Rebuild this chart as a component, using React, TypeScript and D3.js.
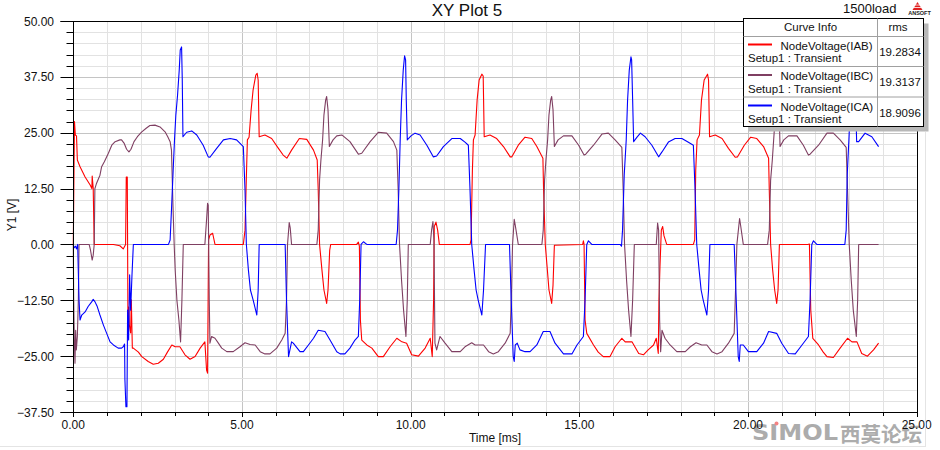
import React from 'react';
import * as d3 from 'd3';

// ---------- data (time in ms, voltage in V) ----------
const xMajorTicks = [0, 5, 10, 15, 20, 25];
const yMajorTicks = [-37.5, -25, -12.5, 0, 12.5, 25, 37.5, 50];
const xDomain = [0, 25];
const yDomain = [-37.5, 50];

const seriesNames = ['NodeVoltage(IAB)', 'NodeVoltage(IBC)', 'NodeVoltage(ICA)'];
const seriesSetup = 'Setup1 : Transient';
const rmsValues = ['19.2834', '19.3137', '18.9096'];

const iabData: [number, number][] = [
  [0,0],[0.015,12.2],[0.035,27.5],[0.06,24.5],[0.095,24.3],[0.12,18.9],[0.2,17.4],[0.35,15.1],[0.5,13.3],[0.55,12.5],[0.56,15.3],[0.59,12.6],[0.62,0],
  [1.19,0],[1.38,-0.3],[1.48,-1.0],[1.55,0],[1.57,15.1],[1.6,15.1],[1.62,-16.9],[1.64,-14],[1.66,-18],[1.7,-19.8],[1.72,-12.4],[1.75,-23.2],[1.78,-23.2],
  [1.93,-24.1],[2.03,-25.1],[2.22,-26.2],[2.37,-26.8],[2.52,-26.6],[2.67,-25.7],[2.79,-24.1],[2.92,-22.5],[3.02,-22.9],[3.16,-22.9],[3.31,-24.7],[3.46,-25.7],
  [3.61,-25.1],[3.76,-23.2],[3.9,-21.8],[3.95,-28.1],[3.98,-28.8],[4.01,1.0],[4.05,2.1],[4.13,2.5],[4.2,0],[5.04,0],[5.09,3.2],[5.12,12.2],[5.16,23.4],
  [5.21,24],[5.27,30],[5.33,34.6],[5.41,37.9],[5.45,38.3],[5.48,36.8],[5.51,24.1],[5.68,24.5],[5.88,23.7],[6.08,21.5],[6.22,20],[6.33,19.3],[6.47,21.1],
  [6.7,23.7],[6.92,23.5],[7.12,21.1],[7.23,18.9],[7.26,12.2],[7.3,0],[7.37,-5.7],[7.43,-10.2],[7.51,-13.2],[7.55,-10.2],[7.6,-1.3],[7.63,0],[8.4,0],
  [8.45,0.5],[8.48,-0.4],[8.51,-16.9],[8.55,-21.4],[8.7,-22.5],[8.85,-23.2],[9.04,-25.1],[9.19,-25.1],[9.39,-22.9],[9.59,-21],[9.74,-21.8],[9.88,-22.1],
  [10.03,-24.7],[10.23,-25],[10.43,-23.2],[10.58,-21],[10.64,-25.1],[10.68,-12.4],[10.7,4],[10.75,5],[10.8,3.2],[10.85,0],[11.76,0],[11.79,1],[11.83,16.6],
  [11.86,23.4],[11.91,24.5],[11.97,32.3],[12.03,36.8],[12.11,38.1],[12.15,37.7],[12.18,24.1],[12.35,24.5],[12.55,23.7],[12.75,21.9],[12.95,19.6],[13,19.6],
  [13.19,22.2],[13.39,24],[13.59,23.7],[13.74,21.9],[13.92,19.3],[13.94,12.2],[13.99,0],[14.04,-4.6],[14.1,-10.2],[14.18,-13.2],[14.22,-9.1],[14.26,-0.2],
  [15.1,0],[15.12,0.8],[15.14,0],[15.17,-16.9],[15.22,-19.9],[15.42,-22.5],[15.56,-24.1],[15.71,-25.1],[15.91,-25.1],[16.06,-22.9],[16.26,-21],[16.36,-21.8],
  [16.56,-21.8],[16.76,-24.4],[16.9,-24.7],[17.04,-23.6],[17.2,-22.5],[17.28,-21],[17.34,-24.4],[17.36,-12.4],[17.39,-5],[17.43,3.2],[17.47,4],[17.51,1.9],
  [17.59,0],[18.38,0],[18.42,1],[18.45,16.6],[18.49,23.4],[18.56,24.5],[18.62,32.3],[18.7,36.8],[18.8,38.1],[18.83,36.8],[18.86,24.1],[19.03,24.5],
  [19.23,23.7],[19.42,21.5],[19.62,19.5],[19.69,19.6],[19.89,22.2],[20.08,24],[20.26,23.7],[20.46,21.9],[20.61,19.3],[20.63,12.2],[20.67,0],[20.73,-5.7],
  [20.79,-10.2],[20.85,-13.2],[20.89,-10.2],[20.93,0],[21.77,0],[21.82,0.1],[21.86,-14.7],[21.92,-21],[22.09,-22.5],[22.23,-24.1],[22.34,-25.1],[22.53,-25.3],
  [22.73,-23.2],[22.95,-21],[23.08,-21.8],[23.23,-21.8],[23.37,-24.4],[23.54,-25],[23.72,-23.6],[23.87,-22.1],
];

const ibcData: [number, number][] = [
  [0,0],[0.01,-11.7],[0.03,-21.4],[0.05,-26.6],[0.07,-19.2],[0.09,-23.6],[0.12,-20.6],[0.15,-12.4],[0.17,0],[0.38,0],[0.47,0],[0.51,-1.3],[0.56,-3.5],
  [0.59,-2.4],[0.62,0],[0.64,12.5],[0.69,13.7],[0.79,15.5],[0.84,17.4],[0.92,18.5],[1.04,20.4],[1.14,22.2],[1.24,23],[1.38,23.4],[1.43,23.4],[1.51,22.6],
  [1.58,21.3],[1.65,20.7],[1.71,21.3],[1.8,23],[1.9,24.1],[2.03,25.2],[2.16,26],[2.27,26.6],[2.42,26.7],[2.57,26.3],[2.72,25.2],[2.8,24.1],[2.87,23],
  [2.91,21.1],[2.95,9.9],[2.99,0],[3.02,-5.7],[3.07,-12.4],[3.13,-16.9],[3.18,-21.8],[3.22,-12.4],[3.26,0],[3.9,0],[3.95,5.5],[3.98,9.2],[4,8.8],
  [4.03,-12.4],[4.05,-22.1],[4.1,-20.6],[4.2,-21],[4.3,-22.1],[4.4,-23.2],[4.55,-24],[4.74,-24],[4.94,-22.9],[5.09,-22],[5.24,-22.4],[5.39,-22.5],
  [5.54,-24],[5.68,-24.5],[5.83,-24.5],[6.03,-23.2],[6.18,-21.4],[6.28,-19.9],[6.32,-12.4],[6.35,0],[6.4,4.9],[6.43,3.7],[6.47,0],[7.22,0],[7.26,3.2],
  [7.3,14.4],[7.34,18.9],[7.39,23.4],[7.43,29],[7.48,32.3],[7.51,33.1],[7.55,30.1],[7.59,21.9],[7.7,23.4],[7.81,24.3],[7.96,24.5],[8.2,23],[8.45,20.2],
  [8.55,20.4],[8.8,23],[9.04,25.1],[9.29,24.9],[9.49,23],[9.59,21.1],[9.63,12.2],[9.67,0],[9.73,-8],[9.79,-14.7],[9.86,-20.6],[9.9,-12.4],[9.93,0],
  [10.58,0],[10.62,3.2],[10.66,5.1],[10.69,1],[10.72,-22.1],[10.77,-23.6],[10.87,-20.6],[11.02,-22.1],[11.22,-24],[11.47,-24],[11.61,-22.9],[11.81,-22],
  [11.91,-22.5],[12.16,-22.5],[12.31,-24],[12.45,-24.5],[12.6,-24],[12.8,-22.1],[12.95,-19.9],[12.99,-10.2],[13.02,0],[13.07,5.6],[13.1,4.3],[13.19,0],
  [13.89,0],[13.93,3.2],[13.97,14.4],[14.01,18.9],[14.06,23.4],[14.1,29],[14.15,32.3],[14.18,33.1],[14.22,30.1],[14.26,21.9],[14.37,23.4],[14.53,24.3],
  [14.78,24.3],[14.98,22.2],[15.14,20],[15.19,20.2],[15.42,22.2],[15.67,24.7],[15.86,24.9],[16.06,23.4],[16.26,21.7],[16.3,12.2],[16.34,0],[16.4,-8],
  [16.46,-14.7],[16.53,-20.6],[16.58,-12.4],[16.63,0],[17.28,0],[17.32,4.8],[17.35,3.2],[17.38,-16.9],[17.41,-24],[17.45,-19.2],[17.54,-21],[17.69,-22.5],
  [17.89,-24],[18.14,-24],[18.29,-22.9],[18.46,-22],[18.63,-22.5],[18.78,-22.5],[18.93,-24],[19.08,-24.5],[19.23,-24],[19.42,-22.1],[19.59,-19.9],
  [19.63,-10.2],[19.67,0],[19.75,5.8],[19.78,4.3],[19.86,0],[20.58,0],[20.63,3.2],[20.67,14.4],[20.72,18.9],[20.76,23.4],[20.81,29],[20.85,32.3],
  [20.88,33.1],[20.92,30.1],[20.95,21.9],[21.06,23.4],[21.2,24.3],[21.45,24.3],[21.64,22.2],[21.79,20],[21.84,20.2],[22.09,22.2],[22.34,24.9],[22.53,24.9],
  [22.73,23.4],[22.91,21.7],[22.95,12.2],[23,0],[23.06,-8],[23.12,-14.7],[23.21,-20.6],[23.25,-12.4],[23.28,0],[23.87,0],
];

const icaData: [number, number][] = [
  [0,0],[0.02,-0.8],[0.065,-0.4],[0.095,-1],[0.13,0],[0.15,-6.5],[0.17,-12.4],[0.2,-16.9],[0.25,-15.8],[0.35,-15.1],[0.44,-13.9],[0.55,-12.8],[0.59,-12.3],
  [0.64,-12.8],[0.71,-13.9],[0.79,-15.8],[0.89,-18],[0.99,-19.9],[1.09,-21.8],[1.19,-22.5],[1.33,-23.2],[1.43,-23.2],[1.48,-22.9],[1.52,-22.3],[1.53,-30.3],
  [1.56,-36.3],[1.59,-36.3],[1.61,-14.7],[1.64,-21.4],[1.67,-6.8],[1.7,-14.7],[1.74,-6.8],[1.78,0],[2.57,0],[2.82,0],[2.87,1],[2.91,7.7],[2.96,16.6],
  [3,23.4],[3.04,29],[3.09,33.4],[3.14,39],[3.17,43.5],[3.21,44.2],[3.23,36.8],[3.25,24.1],[3.36,25.1],[3.51,25.4],[3.66,24.5],[3.85,22.2],[4,19.6],
  [4.05,19.5],[4.25,21.5],[4.45,23.4],[4.65,23.7],[4.84,23.4],[5.04,21.9],[5.09,12.2],[5.13,0],[5.19,-5.7],[5.25,-10.2],[5.33,-12.4],[5.44,-15.8],
  [5.48,-10.2],[5.51,0],[6.28,0],[6.32,-12.4],[6.38,-25.1],[6.47,-21.8],[6.52,-22.1],[6.72,-24],[6.82,-24],[6.97,-22.5],[7.12,-21],[7.26,-19.2],[7.46,-19.5],
  [7.61,-21.4],[7.81,-24],[7.91,-24.5],[8.05,-24.5],[8.2,-23.2],[8.35,-21.4],[8.45,-20.6],[8.49,-12.4],[8.53,0],[8.6,0.6],[8.7,0],[9.57,0],[9.61,3.2],
  [9.65,12.2],[9.69,23.4],[9.73,32.3],[9.78,39],[9.82,42.2],[9.85,41.3],[9.87,32.3],[9.9,23.4],[10.01,24.3],[10.13,24.9],[10.28,24.5],[10.48,22.2],
  [10.67,19.6],[10.77,19.8],[10.97,21.9],[11.22,23.7],[11.47,23.7],[11.61,22.9],[11.71,22.2],[11.76,12.2],[11.81,0],[11.88,-5.7],[11.94,-10.2],[12,-12.4],
  [12.11,-15.8],[12.16,-10.2],[12.22,0],[12.93,0],[12.98,-12.4],[13.04,-25.1],[13.07,-26.2],[13.1,-22.5],[13.16,-22.1],[13.24,-23.6],[13.39,-24],[13.54,-24],
  [13.74,-22.5],[13.93,-19.5],[14.13,-19.5],[14.28,-22.1],[14.53,-24.5],[14.78,-24.5],[14.93,-22.5],[15.12,-20.6],[15.17,-12.4],[15.22,0],[15.27,0.8],
  [15.37,0],[16.21,0],[16.25,-0.4],[16.28,3.2],[16.33,15.5],[16.39,23.4],[16.43,32.3],[16.48,39],[16.53,42],[16.55,41.3],[16.58,32.3],[16.61,23],[16.71,24],
  [16.81,24.9],[16.95,24.1],[17.15,22.2],[17.35,19.6],[17.45,20.7],[17.64,22.9],[17.84,23.7],[18.04,23.7],[18.22,22.9],[18.38,22.2],[18.43,12.2],[18.48,0],
  [18.55,-5.7],[18.61,-10.2],[18.67,-12.4],[18.78,-15.8],[18.83,-10.2],[18.87,0],[19.59,0],[19.65,-12.4],[19.71,-25.1],[19.74,-26.2],[19.77,-22.5],
  [19.86,-22.5],[20.01,-24],[20.26,-24],[20.46,-22.1],[20.61,-19.5],[20.85,-19.9],[21,-22.1],[21.2,-24.4],[21.4,-24.5],[21.6,-22.5],[21.79,-20.6],[21.84,-12.4],
  [21.89,0],[21.94,0.8],[22.04,0],[22.87,0],[22.91,3.2],[22.94,15.5],[22.99,23.4],[23.04,32.3],[23.08,39],[23.13,42],[23.16,41.3],[23.19,32.3],[23.22,23],
  [23.28,23],[23.47,24.9],[23.67,24.1],[23.87,21.9],
];

const allSeries = [iabData, ibcData, icaData];
const seriesColors = ['#ff0000', '#7f3f62', '#0000ff'];

const FONT = '"Liberation Sans", Arial, sans-serif';

export default function App() {
  const W = 940;
  const H = 450;
  const left = 73.3, right = 916.7, top = 21, bottom = 412;
  const x = d3.scaleLinear().domain(xDomain).range([left, right]);
  const y = d3.scaleLinear().domain(yDomain).range([bottom, top]);
  const line = d3.line<[number, number]>().x(d => x(d[0])).y(d => y(d[1]));
  const fmt = d3.format('.2f');
  const minorX = d3.range(xDomain[0], xDomain[1] + 0.001, 1);
  const minorY = d3.range(yDomain[0], yDomain[1] + 0.001, 2.5);
  const px = (v: number) => Math.round(v) + 0.5;

  const legX = 743.5, legY = 18.5, legW = 180, legH = 108;
  const colX = 877.5;
  const rowYs = [36.5, 66.5, 97];

  return (
    <svg width={W} height={H} style={{ position: 'absolute', left: 0, top: 0, background: '#fff' }} fontFamily={FONT}>
      <rect x={0} y={0} width={W} height={H} fill="#fff" />
      {/* grid */}
      {minorX.map(t => (
        <line key={'gx' + t} x1={px(x(t))} x2={px(x(t))} y1={top} y2={bottom}
          stroke={t % 5 === 0 ? '#c4c4c4' : '#e2e2e2'} strokeWidth={1} />
      ))}
      {minorY.map(v => (
        <line key={'gy' + v} x1={left} x2={right} y1={px(y(v))} y2={px(y(v))}
          stroke={Math.abs((v / 12.5) - Math.round(v / 12.5)) < 1e-6 ? '#c4c4c4' : '#e2e2e2'} strokeWidth={1} />
      ))}
      {/* series */}
      {allSeries.map((s, i) => (
        <path key={'s' + i} d={line(s) || ''} fill="none" stroke={seriesColors[i]} strokeWidth={1.1} strokeLinejoin="round" />
      ))}
      {/* frame */}
      <line x1={px(left)} x2={px(left)} y1={top} y2={bottom} stroke="#000" />
      <line x1={px(left) - 13} x2={px(right)} y1={px(bottom)} y2={px(bottom)} stroke="#000" />
      <line x1={px(left) - 13} x2={px(right)} y1={px(top)} y2={px(top)} stroke="#000" />
      <line x1={px(right)} x2={px(right)} y1={top} y2={bottom + 5} stroke="#000" />
      {/* y ticks */}
      {minorY.map(v => {
        const major = Math.abs((v / 12.5) - Math.round(v / 12.5)) < 1e-6;
        return <line key={'yt' + v} x1={px(left) - (major ? 13 : 7)} x2={px(left)} y1={px(y(v))} y2={px(y(v))} stroke="#000" />;
      })}
      {yMajorTicks.map(v => (
        <text key={'yl' + v} x={54} y={y(v) + 4.5} fontSize={12} textAnchor="end" fill="#111">{fmt(v)}</text>
      ))}
      {/* x ticks */}
      {minorX.map(t => (
        <line key={'xt' + t} x1={px(x(t))} x2={px(x(t))} y1={bottom} y2={bottom + (t % 5 === 0 ? 5 : 4)} stroke="#000" />
      ))}
      {/* watermark */}
      <g opacity={0.7}>
        <text x={752} y={440} fontSize={22} fontWeight="bold" fill="#8a8a8a" fontFamily='"DejaVu Sans", sans-serif'
          textLength={86} lengthAdjust="spacingAndGlyphs">SIMOL</text>
        <circle cx={776.5} cy={423.5} r={2} fill="#f05050" />
        <text x={840} y={442} fontSize={20.5} fill="#8a8a8a" fontWeight="bold" fontFamily='"Noto Sans CJK SC", sans-serif'>西莫论坛</text>
      </g>
      {xMajorTicks.map(t => (
        <text key={'xl' + t} x={x(t)} y={428.5} fontSize={12} textAnchor="middle" fill="#111">{fmt(t)}</text>
      ))}
      {/* axis titles */}
      <text x={495} y={442} fontSize={12} textAnchor="middle" fill="#111">Time [ms]</text>
      <text transform="translate(16,215) rotate(-90)" fontSize={12} textAnchor="middle" fill="#111">Y1 [V]</text>
      <text x={467} y={15.5} fontSize={17} textAnchor="middle" fill="#111">XY Plot 5</text>
      <text x={843} y={12.5} fontSize={13} fill="#111">1500load</text>
      {/* ansoft logo */}
      <g>
        <polygon points="917.5,2 912.5,10 922.5,10" fill="#e02020" />
        <line x1={913.5} x2={921.5} y1={7.5} y2={7.5} stroke="#fff" strokeWidth={0.8} />
        <line x1={915} x2={920} y1={5} y2={5} stroke="#fff" strokeWidth={0.8} />
        <text x={919.5} y={14.5} fontSize={5.5} fontWeight="bold" textAnchor="middle" fill="#222">ANSOFT</text>
      </g>
      {/* legend */}
      <rect x={legX + 5} y={legY + 5} width={legW} height={legH} fill="#b8b8b8" />
      <rect x={legX} y={legY} width={legW} height={legH} fill="#fff" stroke="#000" strokeWidth={1} />
      <line x1={legX} x2={legX + legW} y1={rowYs[0]} y2={rowYs[0]} stroke="#a0a0a0" />
      <line x1={legX} x2={legX + legW} y1={rowYs[1]} y2={rowYs[1]} stroke="#a0a0a0" />
      <line x1={legX} x2={legX + legW} y1={rowYs[2]} y2={rowYs[2]} stroke="#a0a0a0" />
      <line x1={colX} x2={colX} y1={legY} y2={legY + legH} stroke="#a0a0a0" />
      <text x={810.5} y={31} fontSize={11.5} textAnchor="middle" fill="#111">Curve Info</text>
      <text x={898} y={31} fontSize={11.5} textAnchor="middle" fill="#111">rms</text>
      {seriesNames.map((n, i) => {
        const base = 36.5 + i * 30.5;
        return (
          <g key={'lg' + i}>
            <line x1={748} x2={772} y1={base + 8} y2={base + 8} stroke={seriesColors[i]} strokeWidth={2} />
            <text x={780.5} y={base + 13} fontSize={11.5} fill="#111">{n}</text>
            <text x={748} y={base + 25.5} fontSize={11.5} fill="#111">{seriesSetup}</text>
            <text x={900} y={base + 19} fontSize={11.5} textAnchor="middle" fill="#111">{rmsValues[i]}</text>
          </g>
        );
      })}
      {/* outer frame lines */}
      <line x1={0} x2={925} y1={446.5} y2={446.5} stroke="#e4e4e4" />
      <line x1={925.5} x2={925.5} y1={132} y2={447} stroke="#e4e4e4" />
    </svg>
  );
}
